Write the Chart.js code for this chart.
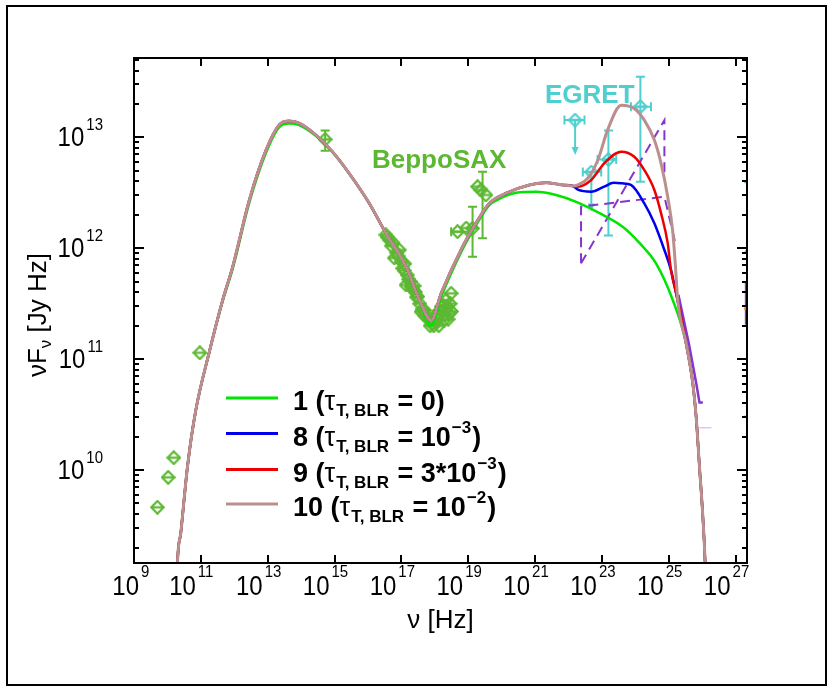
<!DOCTYPE html>
<html>
<head>
<meta charset="utf-8">
<title>SED models</title>
<script src="https://cdn.jsdelivr.net/npm/chart.js@4.4.0/dist/chart.umd.min.js"></script>
<style>
  html, body { margin: 0; padding: 0; background: #fff; }
  #wrap { position: relative; width: 831px; height: 691px; }
</style>
</head>
<body>
<div id="wrap"><canvas id="sed" width="831" height="691"></canvas></div>
<script>
// nu [Hz] and nuF_nu [Jy Hz]
// low-energy hump, shared by models 8, 9, 10 (model 1 slightly lower)
const nuLow = [1.91e10, 2.00e10, 2.51e10, 3.98e10, 7.08e10, 1.78e11, 4.47e11, 8.91e11, 2.82e12, 8.91e12,
  2.19e13, 4.37e13, 8.71e13, 2.75e14, 8.71e14, 2.75e15, 1.10e16, 3.47e16, 1.38e17, 3.47e17,
  7.76e17, 1.55e18, 6.76e18, 1.70e19, 4.27e19];
const fluxLow = [7.94e8, 1.45e9, 2.69e9, 1.07e10, 3.47e10, 1.15e11, 3.39e11, 6.76e11, 2.72e12, 7.67e12,
  1.29e13, 1.40e13, 1.34e13, 1.05e13, 7.41e12, 4.73e12, 2.54e12, 1.36e12, 6.81e11, 3.41e11,
  2.22e11, 3.92e11, 1.03e12, 1.68e12, 2.54e12];
const fluxLow1 = [7.94e8, 1.45e9, 2.69e9, 1.07e10, 3.47e10, 1.15e11, 3.31e11, 6.46e11, 2.57e12, 7.24e12,
  1.23e13, 1.33e13, 1.29e13, 1.03e13, 7.33e12, 4.70e12, 2.52e12, 1.35e12, 6.76e11, 3.35e11,
  2.00e11, 3.63e11, 9.77e11, 1.60e12, 2.45e12];

// inverse-Compton plateau common to 8, 9, 10
const nuMid = [1.35e20, 6.76e20, 2.14e21, 6.76e21, 1.35e22];
const fluxMid = [3.13e12, 3.72e12, 3.90e12, 3.72e12, 3.64e12];

// gamma-ray part, per model
const nuHigh1 = [6.76e19, 2.69e20, 1.07e21, 4.27e21, 1.70e22, 8.51e22, 4.17e23, 1.35e24, 4.17e24, 1.32e25];
const fluxHigh1 = [2.69e12, 3.16e12, 3.23e12, 3.02e12, 2.62e12, 2.07e12, 1.56e12, 1.11e12, 7.31e11, 3.41e11];
const nuHigh8 = [1.91e22, 4.79e22, 1.17e23, 2.24e23, 3.98e23, 7.41e23, 1.86e24, 3.72e24, 7.41e24, 1.17e25, 1.66e25];
const fluxHigh8 = [3.37e12, 3.23e12, 3.59e12, 3.89e12, 3.85e12, 3.72e12, 2.54e12, 1.68e12, 9.64e11, 6.35e11, 3.92e11];
const nuHigh9 = [1.91e22, 4.79e22, 1.17e23, 3.80e23, 9.33e23, 1.86e24, 3.72e24, 5.89e24, 9.33e24, 1.17e25, 1.86e25];
const fluxHigh9 = [3.59e12, 4.12e12, 5.83e12, 7.41e12, 6.68e12, 5.07e12, 3.35e12, 2.07e12, 1.11e12, 6.35e11, 3.41e11];
const nuHigh10 = [1.91e22, 3.80e22, 7.59e22, 1.48e23, 3.80e23, 9.33e23, 1.86e24, 3.72e24, 5.89e24, 9.33e24, 1.32e25, 1.58e25, 1.86e25];
const fluxHigh10 = [3.72e12, 4.27e12, 6.24e12, 1.16e13, 1.95e13, 1.82e13, 1.43e13, 9.46e12, 5.83e12, 2.91e12, 1.41e12, 7.08e11, 3.41e11];

// cutoff, identical for all models
const nuTail = [3.31e25, 5.25e25, 6.61e25, 8.32e25, 1.05e26, 1.23e26, 1.32e26];
const fluxTail = [1.39e11, 6.05e10, 3.03e10, 1.07e10, 3.79e9, 1.45e9, 6.31e8];

// radio / optical / BeppoSAX points
const saxNu = [5.01e9, 1.05e10, 1.55e10, 9.33e10, 5.25e14,
  3.47e16, 3.80e16, 4.37e16, 5.01e16, 5.62e16, 6.17e16, 7.24e16, 7.94e16, 8.71e16, 1.00e17,
  1.10e17, 1.20e17, 1.26e17, 1.38e17, 1.51e17, 1.66e17, 1.82e17, 1.95e17, 2.19e17, 2.40e17,
  2.63e17, 2.82e17, 3.09e17, 3.55e17, 3.89e17, 4.17e17, 4.79e17, 5.01e17, 5.50e17, 6.03e17,
  6.61e17, 7.24e17, 8.51e17, 9.33e17, 1.05e18, 1.12e18, 1.20e18, 1.32e18, 1.41e18, 1.55e18,
  1.66e18, 1.78e18, 1.91e18, 2.00e18, 2.19e18, 2.40e18, 2.51e18, 2.69e18, 2.88e18, 3.09e18,
  3.16e18, 4.79e18, 8.71e18, 1.35e19, 1.91e19, 2.40e19, 3.39e19];
const saxFlux = [4.61e9, 8.59e9, 1.29e10, 1.14e11, 9.59e12,
  1.32e12, 1.26e12, 1.19e12, 1.05e12, 1.12e12, 8.17e11, 9.12e11, 8.51e11, 9.64e11, 7.59e11,
  6.59e11, 6.31e11, 7.24e11, 4.66e11, 5.73e11, 5.25e11, 5.01e11, 4.50e11, 4.27e11, 4.57e11,
  4.03e11, 3.63e11, 3.66e11, 3.16e11, 2.67e11, 2.82e11, 2.51e11, 2.75e11, 2.41e11, 2.35e11,
  2.29e11, 2.00e11, 2.10e11, 2.00e11, 2.16e11, 2.29e11, 2.59e11, 2.00e11, 2.75e11, 2.97e11,
  2.66e11, 3.02e11, 2.25e11, 2.51e11, 3.41e11, 2.95e11, 2.29e11, 2.59e11, 3.16e11, 3.92e11,
  2.69e11, 1.41e12, 1.52e12, 1.51e12, 3.59e12, 3.35e12, 3.02e12];
const saxErrNu = [5.25e14, 1.35e19, 2.69e19];
const saxErrLo = [7.57e12, 8.37e11, 1.23e12];
const saxErrHi = [1.15e13, 2.37e12, 4.90e12];
const saxXErrFlux = [1.41e12];
const saxXErrLo = [3.09e18];
const saxXErrHi = [1.20e19];

// EGRET
const egretNu = [1.58e22, 4.84e22, 1.57e23, 1.42e24];
const egretFlux = [1.43e13, 4.86e12, 6.31e12, 1.89e13];
const egretNuLo = [7.59e21, 2.69e22, 7.41e22, 7.41e23];
const egretNuHi = [3.02e22, 9.55e22, 2.69e23, 2.95e24];
const egretFluxLo = [null, null, 1.30e12, 3.98e12];
const egretFluxHi = [null, null, 1.15e13, 3.52e13];
const egretLimit = [6.92e12, 2.14e12, null, null];

// bow-tie
const bowANu = [2.38e22, 7.43e24, 7.43e24];
const bowAFlux = [7.31e11, 1.43e13, 4.42e12];
const bowBNu = [2.38e22, 2.38e22, 7.43e24, 1.58e25];
const bowBFlux = [7.31e11, 2.37e12, 2.91e12, 1.11e12];
const violetNu = [1.95e25, 4.07e25, 6.76e25, 8.32e25, 1.05e26];
const violetFlux = [3.80e11, 1.35e11, 5.89e10, 4.07e10, 4.07e10];
const lilacNu = [8.32e25, 1.90e26];
const lilacFlux = [2.40e10, 2.40e10];

// bits of other curves poking in at the right edge
const edgeNu = [1.82e27, 3.2e27];
const edgeCyan = [3.93e12, 3.93e12];
const edgeOrangeA = [9.0e11, 1.1e12];
const edgeOrangeB = [2.8e11, 3.4e11];
const edgeVioletA = [4.86e11, 2.04e11];
const edgeVioletB = [3.02e10, 3.02e10];

// axes
const xTickVals = [1e9, 1e11, 1e13, 1e15, 1e17, 1e19, 1e21, 1e23, 1e25, 1e27];
const xTickExps = ['9', '11', '13', '15', '17', '19', '21', '23', '25', '27'];
const yTickVals = [1e10, 1e11, 1e12, 1e13];
const yTickExps = ['10', '11', '12', '13'];

// legend
const legendIds = ['1', '8', '9', '10'];
const legendTauBase = ['0', '10', '3*10', '10'];
const legendTauExp = ['', '\u22123', '\u22123', '\u22122'];

const COL = {
  m1: '#00e400', m8: '#0000ee', m9: '#ee0000', m10: '#bc8f8f',
  sax: '#5cb832', egret: '#4fcfcf', bow: '#8636cc', lilac: '#d9a6f2', orange: '#ff8c00'
};
const FONT = '"Liberation Sans", Arial, Helvetica, sans-serif';

const pts = (nu, f) => nu.map((v, i) => ({ x: v, y: f[i] }));
const join = (...parts) => parts.flatMap(p => pts(p[0], p[1]));

function diamond(color) {
  const c = document.createElement('canvas');
  c.width = 15; c.height = 15;
  const g = c.getContext('2d');
  g.strokeStyle = color;
  g.lineWidth = 2.2;
  g.beginPath();
  g.moveTo(7.5, 1.2); g.lineTo(13.8, 7.5); g.lineTo(7.5, 13.8); g.lineTo(1.2, 7.5);
  g.closePath();
  g.stroke();
  g.beginPath(); g.moveTo(1.2, 7.5); g.lineTo(13.8, 7.5); g.stroke();
  return c;
}

const saxBars = saxErrNu.map((v, i) => ({ x: v, yLo: saxErrLo[i], yHi: saxErrHi[i] }))
  .concat(saxXErrFlux.map((v, i) => ({ y: v, x: Math.sqrt(saxXErrLo[i] * saxXErrHi[i]), xLo: saxXErrLo[i], xHi: saxXErrHi[i] })));
const egretBars = egretNu.map((v, i) => ({
  x: v, y: egretFlux[i], xLo: egretNuLo[i], xHi: egretNuHi[i],
  yLo: egretFluxLo[i], yHi: egretFluxHi[i], ul: egretLimit[i]
}));

const curveStyle = (color, w) => ({
  showLine: true, borderColor: color, borderWidth: w, pointRadius: 0,
  cubicInterpolationMode: 'monotone'
});

const datasets = [
  Object.assign({ label: '10', data: join([nuLow, fluxLow], [nuMid, fluxMid], [nuHigh10, fluxHigh10], [nuTail, fluxTail]), order: 0 }, curveStyle(COL.m10, 3)),
  Object.assign({ label: '9', data: join([nuLow, fluxLow], [nuMid, fluxMid], [nuHigh9, fluxHigh9], [nuTail, fluxTail]), order: 1 }, curveStyle(COL.m9, 2.5)),
  Object.assign({ label: '8', data: join([nuLow, fluxLow], [nuMid, fluxMid], [nuHigh8, fluxHigh8], [nuTail, fluxTail]), order: 2 }, curveStyle(COL.m8, 2.5)),
  Object.assign({ label: '1', data: join([nuLow, fluxLow1], [nuHigh1, fluxHigh1], [nuTail, fluxTail]), order: 3 }, curveStyle(COL.m1, 2.5)),
  { label: 'violet', data: pts(violetNu, violetFlux), showLine: true, borderColor: COL.bow, borderWidth: 2.5, pointRadius: 0, order: 4 },
  { label: 'lilac', data: pts(lilacNu, lilacFlux), showLine: true, borderColor: COL.lilac, borderWidth: 1, pointRadius: 0, order: 4 },
  { label: 'bowA', data: pts(bowANu, bowAFlux), showLine: true, borderColor: COL.bow, borderWidth: 2, borderDash: [10, 6], pointRadius: 0, order: 5 },
  { label: 'bowB', data: pts(bowBNu, bowBFlux), showLine: true, borderColor: COL.bow, borderWidth: 2, borderDash: [10, 6], pointRadius: 0, order: 5 },
  { label: 'EGRET', data: pts(egretNu, egretFlux), pointStyle: diamond(COL.egret), borderColor: COL.egret, bars: egretBars, order: 6 },
  { label: 'BeppoSAX', data: pts(saxNu, saxFlux), pointStyle: diamond(COL.sax), borderColor: COL.sax, bars: saxBars, order: 7 },
  { label: 'e1', data: pts(edgeNu, edgeCyan), showLine: true, borderColor: COL.egret, borderWidth: 2, pointRadius: 0, order: 8 },
  { label: 'e2', data: pts(edgeNu, edgeOrangeA), showLine: true, borderColor: COL.orange, borderWidth: 2, pointRadius: 0, order: 8 },
  { label: 'e3', data: pts(edgeNu, edgeOrangeB), showLine: true, borderColor: COL.orange, borderWidth: 2, pointRadius: 0, order: 8 },
  { label: 'e4', data: pts([2.1e27, 2.1e27], edgeVioletA), showLine: true, borderColor: COL.bow, borderWidth: 3, pointRadius: 0, order: 8 },
  { label: 'e5', data: pts(edgeNu, edgeVioletB), showLine: true, borderColor: COL.bow, borderWidth: 2, pointRadius: 0, order: 8 }
];

// error bars and upper-limit arrows, drawn right after their own dataset
const errorBars = {
  id: 'errorBars',
  afterDatasetDraw(chart, args) {
    const ds = chart.data.datasets[args.index];
    if (!ds.bars) return;
    const xs = chart.scales.x, ys = chart.scales.y, ctx = chart.ctx, a = chart.chartArea;
    const cap = 4.5;
    ctx.save();
    ctx.beginPath();
    ctx.rect(a.left, a.top, a.right - a.left, a.bottom - a.top);
    ctx.clip();
    ctx.strokeStyle = ds.borderColor;
    ctx.fillStyle = ds.borderColor;
    ctx.lineWidth = 2;
    ds.bars.forEach(b => {
      const px = xs.getPixelForValue(b.x);
      if (b.yLo != null) {
        const y1 = ys.getPixelForValue(b.yLo), y2 = ys.getPixelForValue(b.yHi);
        ctx.beginPath();
        ctx.moveTo(px, y1); ctx.lineTo(px, y2);
        ctx.moveTo(px - cap, y1); ctx.lineTo(px + cap, y1);
        ctx.moveTo(px - cap, y2); ctx.lineTo(px + cap, y2);
        ctx.stroke();
      }
      if (b.xLo != null) {
        const py = ys.getPixelForValue(b.y);
        const x1 = xs.getPixelForValue(b.xLo), x2 = xs.getPixelForValue(b.xHi);
        ctx.beginPath();
        ctx.moveTo(x1, py); ctx.lineTo(x2, py);
        ctx.moveTo(x1, py - cap); ctx.lineTo(x1, py + cap);
        ctx.moveTo(x2, py - cap); ctx.lineTo(x2, py + cap);
        ctx.stroke();
      }
      if (b.ul != null) {
        const py = ys.getPixelForValue(b.y), pe = ys.getPixelForValue(b.ul);
        ctx.beginPath();
        ctx.moveTo(px, py); ctx.lineTo(px, pe - 6);
        ctx.stroke();
        ctx.beginPath();
        ctx.moveTo(px - 3.5, pe - 8); ctx.lineTo(px + 3.5, pe - 8); ctx.lineTo(px, pe);
        ctx.closePath();
        ctx.fill();
      }
    });
    ctx.restore();
  }
};

function txt(ctx, s, x, y, font, sy) {
  ctx.font = font;
  ctx.save();
  ctx.translate(x, y);
  ctx.scale(1, sy || 1);
  ctx.fillText(s, 0, 0);
  ctx.restore();
  return ctx.measureText(s).width;
}

// frame, inward ticks, labels, legend and annotations
const decorations = {
  id: 'decorations',
  afterDraw(chart) {
    const ctx = chart.ctx, a = chart.chartArea, xs = chart.scales.x, ys = chart.scales.y;
    ctx.save();
    ctx.strokeStyle = '#000';
    ctx.fillStyle = '#000';
    ctx.textBaseline = 'alphabetic';
    ctx.textAlign = 'left';

    // outer border
    ctx.lineWidth = 2;
    ctx.strokeRect(7, 6, 819, 679);

    // plot frame
    ctx.strokeRect(a.left, a.top, a.right - a.left, a.bottom - a.top);

    // x ticks (bottom and top)
    ctx.beginPath();
    xTickVals.forEach(v => {
      const px = Math.round(xs.getPixelForValue(v));
      ctx.moveTo(px, a.bottom); ctx.lineTo(px, a.bottom - 8);
      ctx.moveTo(px, a.top); ctx.lineTo(px, a.top + 8);
    });
    // y ticks (left and right), decades plus 2..9 minors
    for (let d = 9; d <= 13; d++) {
      for (let k = 1; k <= 9; k++) {
        const v = k * Math.pow(10, d);
        if (v < ys.min || v > ys.max) continue;
        const py = Math.round(ys.getPixelForValue(v));
        const len = k === 1 ? 10 : 5;
        ctx.moveTo(a.left, py); ctx.lineTo(a.left + len, py);
        ctx.moveTo(a.right, py); ctx.lineTo(a.right - len, py);
      }
    }
    ctx.stroke();

    // tick labels
    const big = '400 24px ' + FONT, sup = '400 15px ' + FONT;
    const sy = 1.12;
    xTickVals.forEach((v, i) => {
      const px = xs.getPixelForValue(v);
      const e = xTickExps[i];
      ctx.font = big;
      const wb = ctx.measureText('10').width;
      const right = px + (e.length === 1 ? 5 : -5);
      txt(ctx, '10', right - wb, 595, big, sy);
      txt(ctx, e, right + 2, 577, sup, sy);
    });
    yTickVals.forEach((v, i) => {
      const py = ys.getPixelForValue(v);
      ctx.font = sup;
      const we = ctx.measureText(yTickExps[i]).width;
      ctx.font = big;
      const wb = ctx.measureText('10').width;
      txt(ctx, yTickExps[i], 103 - we, py - 7, sup, sy);
      txt(ctx, '10', 103 - we - 2 - wb, py + 9, big, sy);
    });

    // axis titles
    const title = '400 26px ' + FONT, titleSub = '400 17px ' + FONT;
    ctx.font = title;
    const xt = '\u03bd [Hz]';
    const xtw = ctx.measureText(xt).width;
    txt(ctx, xt, (a.left + a.right) / 2 - xtw / 2, 628, title);

    ctx.save();
    ctx.translate(46, 315);
    ctx.rotate(-Math.PI / 2);
    ctx.font = title;
    const w1 = ctx.measureText('\u03bdF').width;
    const w3 = ctx.measureText(' [Jy Hz]').width;
    ctx.font = titleSub;
    const w2 = ctx.measureText('\u03bd').width;
    let tx = -(w1 + w2 + w3) / 2;
    tx += txt(ctx, '\u03bdF', tx, 0, title);
    tx += txt(ctx, '\u03bd', tx, 5, titleSub);
    txt(ctx, ' [Jy Hz]', tx, 0, title);
    ctx.restore();

    // legend
    const lx0 = 226, lx1 = 278, rowY = [398, 433.5, 469.5, 504];
    const colors = [COL.m1, COL.m8, COL.m9, COL.m10];
    const lb = '700 27px ' + FONT, ls = '700 17px ' + FONT, lt = '400 27px ' + FONT;
    legendIds.forEach((id, i) => {
      const y = rowY[i];
      ctx.strokeStyle = colors[i];
      ctx.lineWidth = 3;
      ctx.beginPath(); ctx.moveTo(lx0, y); ctx.lineTo(lx1, y); ctx.stroke();
      ctx.fillStyle = '#000';
      const base = y + 12;
      let x = 293;
      x += txt(ctx, id + ' (', x, base, lb);
      x += txt(ctx, '\u03c4', x, base, lt);
      x += txt(ctx, 'T, BLR', x + 1, base + 6, ls) + 2;
      x += txt(ctx, ' = ' + legendTauBase[i], x, base, lb);
      if (legendTauExp[i]) x += txt(ctx, legendTauExp[i], x + 1, base - 13, ls) + 2;
      txt(ctx, ')', x, base, lb);
    });

    // instrument labels
    ctx.fillStyle = COL.sax;
    txt(ctx, 'BeppoSAX', 372, 168, '700 26px ' + FONT);
    ctx.fillStyle = COL.egret;
    txt(ctx, 'EGRET', 545, 103, '700 26px ' + FONT);
    ctx.restore();
  }
};

window.addEventListener('DOMContentLoaded', () => {
  const ctx = document.getElementById('sed').getContext('2d');
  new Chart(ctx, {
    type: 'scatter',
    data: { datasets },
    options: {
      responsive: false,
      animation: false,
      events: [],
      layout: { padding: { left: 134, top: 58, right: 84, bottom: 128 } },
      plugins: { legend: { display: false }, tooltip: { enabled: false } },
      scales: {
        x: { type: 'logarithmic', min: 1e9, max: 2.2e27, display: false },
        y: { type: 'logarithmic', min: 1.45e9, max: 5.19e13, display: false }
      }
    },
    plugins: [errorBars, decorations]
  });
});
</script>
</body>
</html>
